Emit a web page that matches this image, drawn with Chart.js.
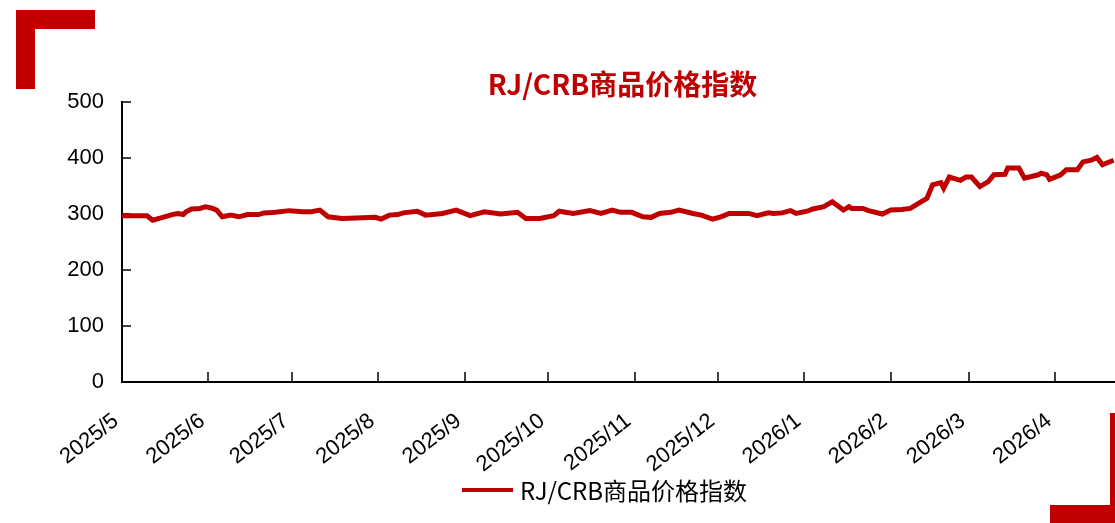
<!DOCTYPE html>
<html>
<head>
<meta charset="utf-8">
<script src="https://cdn.jsdelivr.net/npm/chart.js@4.4.1/dist/chart.umd.min.js"></script>
<style>
  html, body { margin: 0; padding: 0; background: #fff; }
  #wrap { position: relative; width: 1115px; height: 523px; overflow: hidden; }
  .corner { position: absolute; background: #c00000; }
</style>
</head>
<body>
<div id="wrap">
  <canvas id="c" width="1115" height="523"></canvas>
  <div class="corner" style="left:16px;top:10px;width:19px;height:79px"></div>
  <div class="corner" style="left:16px;top:10px;width:79px;height:19px"></div>
  <div class="corner" style="left:1050px;top:505px;width:65px;height:18px"></div>
  <div class="corner" style="left:1110px;top:413px;width:5px;height:110px"></div>
</div>
<script>
  'use strict';
  const SERIES_NAME = 'RJ/CRB商品价格指数';
  const RED = '#c00000';

  // x = days since 2025/5/1
  const monthLabels = ['2025/5', '2025/6', '2025/7', '2025/8', '2025/9', '2025/10', '2025/11', '2025/12', '2026/1', '2026/2', '2026/3', '2026/4'];
  const monthDays = [0, 31, 61, 92, 123, 153, 184, 214, 245, 276, 304, 335];
  const yTicks = [0, 100, 200, 300, 400, 500];

  const days = [
    0, 9, 11, 14, 18, 20, 22, 23, 25, 28,
    30, 32, 34, 36, 39, 42, 45, 49, 51, 55,
    60, 65, 68, 71, 74, 79, 84, 91, 93, 96,
    99, 101, 106, 109, 115, 120, 125, 130, 136, 142,
    145, 150, 155, 157, 162, 168, 172, 176, 179, 183,
    187, 190, 193, 197, 200, 205, 208, 212, 215, 218,
    225, 228, 232, 234, 237, 240, 242, 246, 248, 252,
    255, 259, 261, 262, 266, 268, 273, 276, 280, 283,
    287, 289, 291, 294, 295, 297, 301, 303, 305, 308,
    311, 313, 317, 318, 322, 324, 329, 330, 332, 333,
    337, 339, 343, 345, 348, 350, 352, 356,
  ];
  const values = [
    297, 297, 289, 293, 299, 301, 299, 304, 309, 310,
    313, 311, 307, 295, 298, 295, 299, 299, 302, 303,
    306, 304, 304, 307, 295, 292, 293, 294, 291, 298,
    299, 302, 305, 298, 301, 307, 297, 304, 300, 303,
    292, 292, 297, 305, 301, 306, 301, 307, 303, 303,
    295, 294, 301, 303, 307, 301, 298, 291, 295, 301,
    301, 297, 302, 301, 302, 306, 301, 305, 309, 313,
    322, 307, 313, 310, 310, 306, 300, 307, 308, 310,
    322, 328, 352, 356, 346, 366, 360, 366, 366, 349,
    358, 370, 371, 382, 382, 364, 370, 373, 370, 362,
    370, 379, 379, 393, 396, 401, 388, 396,
  ];

  const tickFont = { family: '"Liberation Sans", Arial, sans-serif', size: 22 };

  // inward ticks, title and legend
  const decor = {
    id: 'decor',
    beforeDatasetsDraw(chart) {
      const { ctx, chartArea: a, scales: { x, y } } = chart;
      ctx.save();
      ctx.strokeStyle = '#000';
      ctx.lineWidth = 1.5;
      ctx.beginPath();
      monthDays.slice(1).forEach((d) => {
        const px = Math.round(x.getPixelForValue(d));
        ctx.moveTo(px, a.bottom);
        ctx.lineTo(px, a.bottom - 10);
      });
      yTicks.slice(1).forEach((v) => {
        const py = Math.round(y.getPixelForValue(v));
        ctx.moveTo(a.left, py);
        ctx.lineTo(a.left + 9, py);
      });
      ctx.stroke();
      ctx.restore();
    },
    afterDraw(chart) {
      const { ctx, chartArea: a } = chart;
      ctx.save();
      ctx.fillStyle = RED;
      ctx.font = 'bold 28px "Noto Sans CJK SC", sans-serif';
      ctx.textAlign = 'center';
      ctx.textBaseline = 'middle';
      ctx.fillText(SERIES_NAME, (a.left + a.right) / 2 + 4, 84);

      ctx.strokeStyle = RED;
      ctx.lineWidth = 4;
      ctx.beginPath();
      ctx.moveTo(462, 490);
      ctx.lineTo(513, 490);
      ctx.stroke();
      ctx.fillStyle = '#000';
      ctx.font = '24px "Noto Sans CJK SC", sans-serif';
      ctx.textAlign = 'left';
      ctx.fillText(SERIES_NAME, 520, 491);
      ctx.restore();
    },
  };

  new Chart(document.getElementById('c').getContext('2d'), {
    type: 'line',
    data: {
      datasets: [{
        label: SERIES_NAME,
        data: days.map((d, i) => ({ x: d, y: values[i] })),
        borderColor: RED,
        borderWidth: 5,
        pointRadius: 0,
        tension: 0,
        fill: false,
      }],
    },
    options: {
      responsive: false,
      animation: false,
      layout: { padding: { top: 102, right: 0, bottom: 0, left: 0 } },
      plugins: { legend: { display: false }, title: { display: false }, tooltip: { enabled: false } },
      scales: {
        x: {
          type: 'linear',
          min: 0,
          max: 356.5,
          afterBuildTicks: (s) => { s.ticks = monthDays.map((v) => ({ value: v })); },
          afterFit: (s) => { s.height = 141; s.paddingLeft = 0; s.paddingRight = 0; },
          grid: { display: false, drawTicks: false },
          border: { display: true, color: '#000', width: 2 },
          ticks: {
            autoSkip: false,
            minRotation: 38,
            maxRotation: 38,
            padding: 26,
            labelOffset: -6,
            color: '#000',
            font: tickFont,
            callback: (v, i) => monthLabels[i],
          },
        },
        y: {
          min: 0,
          max: 500,
          afterBuildTicks: (s) => { s.ticks = yTicks.map((v) => ({ value: v })); },
          afterFit: (s) => { s.width = 122; s.paddingTop = 0; s.paddingBottom = 0; },
          grid: { display: false, drawTicks: false },
          border: { display: true, color: '#000', width: 2 },
          ticks: { padding: 18, color: '#000', font: tickFont },
        },
      },
    },
    plugins: [decor],
  });
</script>
</body>
</html>
